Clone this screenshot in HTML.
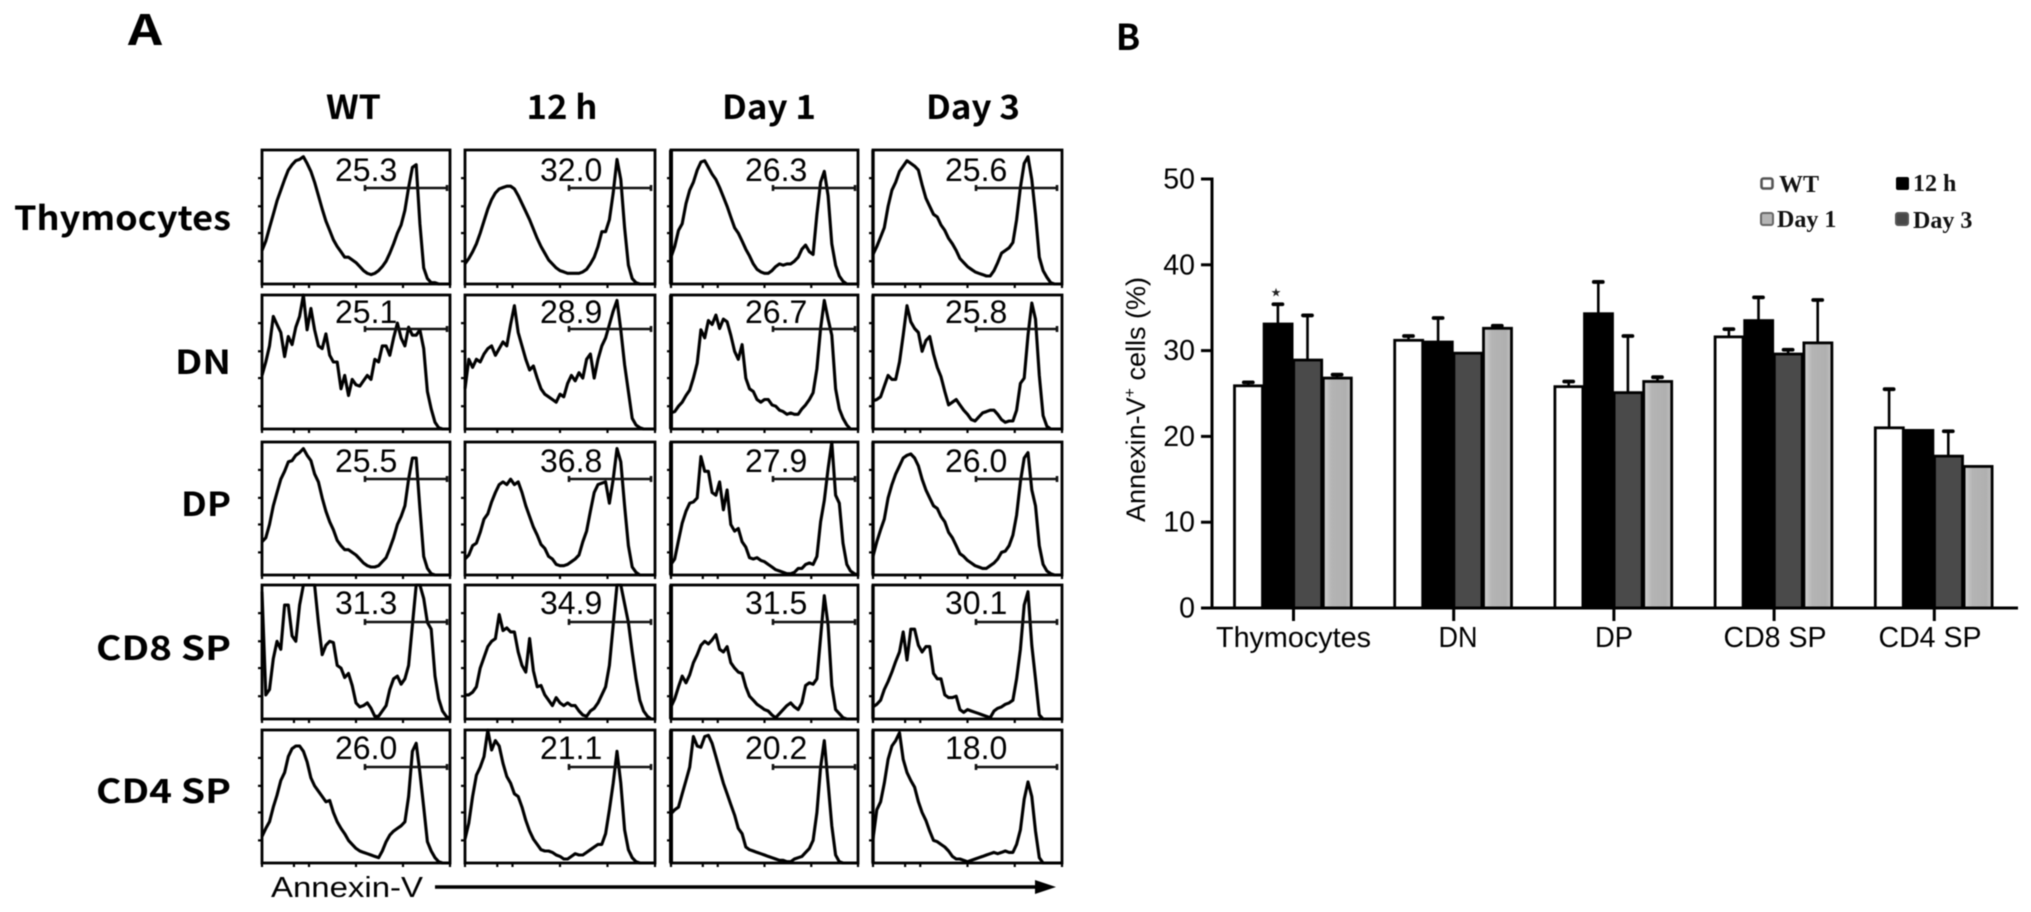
<!DOCTYPE html>
<html lang="en">
<head>
<meta charset="utf-8">
<title>Annexin-V histograms and bar chart</title>
<style>
html,body{margin:0;padding:0;background:#fff;}
svg{display:block;filter:blur(0.4px);}
.krb{font-family:"Noto Sans CJK KR","Liberation Sans",sans-serif;font-weight:700;fill:#000;}
.sans{font-family:"Liberation Sans",sans-serif;fill:#000;}
.serif{font-family:"Liberation Serif",serif;font-weight:700;fill:#111;font-size:24px;}
</style>
</head>
<body>
<svg id="figure" xmlns="http://www.w3.org/2000/svg" width="2031" height="912" viewBox="0 0 2031 912">
  <defs>
    <linearGradient id="light-fill" x1="0" y1="0" x2="1" y2="0">
      <stop offset="0" stop-color="#d4d4d4"/><stop offset="0.3" stop-color="#b4b4b4"/><stop offset="0.8" stop-color="#b0b0b0"/><stop offset="1" stop-color="#c4c4c4"/>
    </linearGradient>
  </defs>
  <rect x="0" y="0" width="2031" height="912" fill="#fff"/>
  <text class="krb" x="128" y="45" font-size="42" textLength="34" lengthAdjust="spacingAndGlyphs">A</text>
  <text class="krb" x="1128" y="50" font-size="36" text-anchor="middle">B</text>

  <g>
    <text class="krb" x="353.5" y="119" font-size="33" text-anchor="middle" textLength="55" lengthAdjust="spacingAndGlyphs">WT</text>
    <text class="krb" x="562" y="119" font-size="33" text-anchor="middle" textLength="71" lengthAdjust="spacingAndGlyphs">12 h</text>
    <text class="krb" x="769" y="119" font-size="33" text-anchor="middle" textLength="94" lengthAdjust="spacingAndGlyphs">Day 1</text>
    <text class="krb" x="973" y="119" font-size="33" text-anchor="middle" textLength="94" lengthAdjust="spacingAndGlyphs">Day 3</text>
  </g>
  <g>
    <text class="krb" x="231" y="230" font-size="33" text-anchor="end" textLength="217" lengthAdjust="spacingAndGlyphs">Thymocytes</text>
    <text class="krb" x="231" y="374" font-size="33" text-anchor="end" textLength="56" lengthAdjust="spacingAndGlyphs">DN</text>
    <text class="krb" x="231" y="516" font-size="33" text-anchor="end" textLength="50" lengthAdjust="spacingAndGlyphs">DP</text>
    <text class="krb" x="231" y="660" font-size="33" text-anchor="end" textLength="135" lengthAdjust="spacingAndGlyphs">CD8 SP</text>
    <text class="krb" x="231" y="803" font-size="33" text-anchor="end" textLength="135" lengthAdjust="spacingAndGlyphs">CD4 SP</text>
  </g>
  <g id="histograms"></g>

  <text class="sans" x="271" y="897" font-size="29" textLength="152" lengthAdjust="spacingAndGlyphs">Annexin-V</text>
  <line x1="435" y1="887" x2="1038" y2="887" stroke="#000" stroke-width="3.4"/>
  <polygon points="1035,880 1056,887 1035,894" fill="#000"/>

  <g id="barchart"></g>
  <text class="sans" transform="translate(1145,399.5) rotate(-90)" font-size="27" text-anchor="middle">Annexin-V<tspan font-size="16" dy="-10">+</tspan><tspan dy="10"> cells (%)</tspan></text>

  <g>
    <rect x="1761.5" y="178.5" width="11" height="10" rx="2" fill="#fff" stroke="#555" stroke-width="2.6"/>
    <text class="serif" x="1779" y="192">WT</text>
    <rect x="1896" y="177" width="13" height="13" rx="2" fill="#000"/>
    <text class="serif" x="1913" y="191">12 h</text>
    <rect x="1761" y="213" width="12" height="12" rx="2" fill="#b5b5b5" stroke="#666" stroke-width="2"/>
    <text class="serif" x="1777" y="227">Day 1</text>
    <rect x="1896" y="213" width="12" height="12" rx="2" fill="#484848" stroke="#555" stroke-width="2"/>
    <text class="serif" x="1913" y="228">Day 3</text>
  </g>
</svg>

<script>
// ---------- Panel A data: relative cell count (0-100) at each Annexin-V channel ----------
const channels = [0,2,4,6,8,10,12,14,16,18,20,22,24,26,28,30,32,34,36,38,40,42,44,46,48,50,52,54,56,58,60,62,64,66,68,70,72,74,76,78,80,82,84,86,88,90,92,94,96,98,100];

const wtThymocytes = [25,32,42,52,62,70,78,85,89,92,93,95,90,84,76,66,56,47,40,33,28,24,20,20,18,16,13,10,8,7,8,10,13,17,23,30,38,44,55,72,87,89,45,12,4,1,1,0,0,0,0];
const h12Thymocytes = [15,19,24,30,38,47,56,63,68,71,72,73,73,71,66,60,54,48,41,34,28,23,18,15,12,10,9,8,8,8,8,9,11,15,20,28,39,39,48,68,93,78,42,14,4,1,0,0,0,0,0];
const day1Thymocytes = [20,28,40,45,60,70,76,85,91,92,87,82,78,72,65,58,50,42,38,32,26,21,15,11,9,8,8,10,13,15,14,15,15,17,20,26,29,24,22,52,76,84,66,30,14,6,2,0,0,0,0];
const day3Thymocytes = [22,28,35,42,58,70,76,84,88,92,90,88,85,74,64,58,52,50,44,40,34,30,25,19,16,13,11,9,8,7,6,6,10,16,23,25,27,31,48,72,90,95,78,52,20,10,5,1,0,0,0];

const wtDN = [40,50,62,84,78,72,54,69,63,76,84,100,74,90,74,62,60,71,55,50,50,30,40,25,37,33,32,36,40,37,52,50,62,62,55,68,79,68,62,76,70,70,74,60,28,15,5,1,0,0,0];
const h12DN = [30,52,46,52,50,56,60,62,55,60,65,62,78,92,72,62,52,44,47,38,30,26,24,22,20,26,24,34,40,36,42,38,52,56,38,52,62,68,78,88,96,74,48,28,8,3,1,0,0,0,0];
const day1DN = [12,13,17,20,25,29,38,49,74,68,81,78,85,75,82,80,70,58,52,63,38,30,28,22,20,22,22,18,17,14,13,11,12,11,11,15,18,22,27,45,75,96,82,70,30,15,8,3,0,0,0];
const day3DN = [21,22,24,32,40,37,37,50,70,92,80,75,72,58,66,69,56,46,39,28,18,20,22,18,14,11,7,6,9,12,13,14,14,11,7,5,6,6,14,34,38,70,94,82,40,10,2,0,0,0,0];

const wtDP = [25,28,38,52,62,72,78,85,86,90,92,95,90,86,76,70,58,48,40,34,26,22,19,19,17,15,12,9,7,6,6,7,10,13,20,28,38,44,52,72,88,88,50,14,5,1,0,0,0,0,0];
const h12DP = [12,15,22,24,32,42,46,55,62,68,70,68,72,68,70,62,52,44,36,30,23,20,14,12,8,7,7,8,10,12,15,25,33,48,62,68,69,70,54,72,95,85,52,22,6,2,0,0,0,0,0];
const day1DP = [8,12,26,39,48,54,55,58,89,78,78,62,60,70,49,64,38,33,35,25,21,13,12,13,11,10,8,6,4,3,2,1,1,2,5,5,8,9,8,14,40,56,80,100,60,54,24,8,3,1,0];
const day3DP = [14,25,34,42,58,68,76,82,88,90,91,88,82,72,64,58,52,50,44,40,32,28,22,16,14,11,9,7,6,5,5,7,9,12,17,18,22,30,45,70,88,92,64,52,22,8,3,1,0,0,0];

const wtCD8 = [95,18,22,45,58,52,85,85,62,58,85,100,100,100,100,72,48,55,58,57,40,38,31,34,25,12,9,10,12,8,2,2,6,10,22,30,32,26,30,40,70,100,100,90,72,67,32,15,6,2,0];
const h12CD8 = [18,18,20,24,38,46,54,58,60,78,66,68,65,65,50,40,35,60,36,24,25,18,14,10,16,12,10,12,10,10,6,3,2,6,8,12,18,24,40,70,100,100,86,72,50,30,14,6,2,0,0];
const day1CD8 = [9,15,24,32,27,33,42,48,55,58,56,59,63,52,50,54,42,38,35,34,24,17,14,11,9,7,6,3,1,4,7,10,12,9,7,12,25,27,26,30,61,92,70,25,7,4,1,0,0,0,0];
const day3CD8 = [9,11,14,22,28,35,43,50,65,44,67,67,55,50,54,54,34,30,30,18,16,16,17,7,5,7,6,5,4,3,2,1,6,8,9,11,12,14,30,52,85,95,55,30,3,0,0,0,0,0,0];

const wtCD4 = [20,26,31,42,51,62,68,80,86,88,88,84,76,64,58,54,50,46,47,38,31,26,22,17,14,11,9,8,7,6,5,4,9,16,21,24,26,28,31,50,84,90,68,42,16,9,4,1,0,0,0];
const h12CD4 = [18,30,50,66,72,80,100,85,92,88,75,65,60,52,50,42,32,24,18,14,10,9,9,8,6,5,3,3,5,7,6,6,8,10,12,14,14,22,40,60,84,60,25,10,4,1,0,0,0,0,0];
const day1CD4 = [37,40,42,52,62,72,95,88,87,95,96,90,80,70,60,52,44,36,26,22,12,10,9,8,7,6,5,4,3,2,2,1,1,3,4,5,8,11,17,38,72,92,60,28,6,1,0,0,0,0,0];
const day3CD4 = [18,40,46,60,78,88,92,98,78,68,62,57,46,38,32,24,17,16,14,12,9,5,3,3,2,1,2,3,4,5,6,7,8,7,8,9,8,8,14,25,48,61,50,24,4,0,0,0,0,0,0];

const populations = ['thymocytes','dn','dp','cd8-sp','cd4-sp'];
const timepoints = ['wt','12h','day1','day3'];
const histogramCounts = [
  [wtThymocytes,h12Thymocytes,day1Thymocytes,day3Thymocytes],
  [wtDN,h12DN,day1DN,day3DN],
  [wtDP,h12DP,day1DP,day3DP],
  [wtCD8,h12CD8,day1CD8,day3CD8],
  [wtCD4,h12CD4,day1CD4,day3CD4]
];
const gatePercents = [
  ['25.3','32.0','26.3','25.6'],
  ['25.1','28.9','26.7','25.8'],
  ['25.5','36.8','27.9','26.0'],
  ['31.3','34.9','31.5','30.1'],
  ['26.0','21.1','20.2','18.0']
];

// ---------- Panel B data ----------
const barCategories = ['Thymocytes','DN','DP','CD8 SP','CD4 SP'];
const yTickLabels = ['0','10','20','30','40','50'];
const yTickValues = [0,10,20,30,40,50];
const wtMeans  = [25.9,31.2,25.8,31.6,21.0];
const h12Means = [33.1,31.0,34.3,33.5,20.7];
const day3Means = [28.9,29.7,25.1,29.6,17.7];
const day1Means = [26.8,32.6,26.4,30.9,16.5];
const wtErrors  = [0.4,0.5,0.6,0.9,4.5];
const h12Errors = [2.3,2.8,3.7,2.7,0];
const day3Errors = [5.2,0,6.6,0.5,2.9];
const day1Errors = [0.4,0.3,0.5,5.0,0];
const seriesNames = ['wt','12h','day3','day1'];
const seriesMeans = [wtMeans,h12Means,day3Means,day1Means];
const seriesErrors = [wtErrors,h12Errors,day3Errors,day1Errors];
const seriesFills = ['#ffffff','#000000','#4a4a4a','url(#light-fill)'];

const NS = 'http://www.w3.org/2000/svg';
function mk(tag, attrs, parent){
  const el = document.createElementNS(NS, tag);
  for (const k in attrs) el.setAttribute(k, attrs[k]);
  parent.appendChild(el);
  return el;
}

// ---------- Panel A layout ----------
const colX = [[262,450],[465,655],[671,858],[873,1062]];
const rowY = [[150,284],[295,429],[442,575],[585,719],[730,863]];
const percentBaseline = [181,323,472,614,759];
const gateY = [188,329,479,622,767];
const gateOffsets = [[103,185],[104,186],[102,184],[103,184]];
const percentOffset = [73,75,74,72];
const bottomTickFractions = [0,0.17,0.25,0.5,0.75,1];
const leftTickFractions = [0.17,0.38,0.58,0.79];

const hist = document.getElementById('histograms');
histogramCounts.forEach(function(rowCurves, r){
  rowCurves.forEach(function(counts, c){
    const x0 = colX[c][0], x1 = colX[c][1], y0 = rowY[r][0], y1 = rowY[r][1];
    const xScale = function(ch){ return x0 + ch / 100 * (x1 - x0); };
    const yScale = function(ct){ return y1 - ct / 100 * (y1 - y0); };
    const name = populations[r] + '-' + timepoints[c];

    const g = mk('g', {}, hist);
    
    

    const frame = mk('rect', {x:x0, y:y0, width:x1-x0, height:y1-y0, fill:'#fff', stroke:'#000', 'stroke-width':2.8}, g);
    
    

    if (c >= 2) {
      const thick = mk('line', {x1:x0, y1:y0, x2:x0, y2:y1, stroke:'#000', 'stroke-width':c === 2 ? 4 : 3.4}, g);
      
      
    }

    bottomTickFractions.forEach(function(f){
      const t = mk('line', {x1:x0+f*(x1-x0), y1:y1, x2:x0+f*(x1-x0), y2:y1+4, stroke:'#000', 'stroke-width':2.2}, g);
      
      
    });
    leftTickFractions.forEach(function(f){
      const t = mk('line', {x1:x0-4, y1:y1-f*(y1-y0), x2:x0, y2:y1-f*(y1-y0), stroke:'#000', 'stroke-width':2.2}, g);
      
      
    });

    const pts = channels.map(function(ch, i){ return xScale(ch).toFixed(1) + ',' + yScale(counts[i]).toFixed(1); }).join(' ');
    const curve = mk('polyline', {points:pts, fill:'none', stroke:'#000', 'stroke-width':3.1, 'stroke-linejoin':'round'}, g);
    
    

    const gx0 = x0 + gateOffsets[c][0], gx1 = x0 + gateOffsets[c][1], gy = gateY[r];
    const gate = mk('path', {d:'M'+gx0+' '+gy+'H'+gx1+'M'+gx0+' '+(gy-3)+'V'+(gy+3)+'M'+gx1+' '+(gy-3)+'V'+(gy+3), fill:'none', stroke:'#111', 'stroke-width':2.6}, g);
    
    

    const label = mk('text', {x:x0+percentOffset[c], y:percentBaseline[r], 'font-size':32, 'class':'sans'}, g);
    label.textContent = gatePercents[r][c];
    
    
  });
});

// ---------- Panel B layout ----------
const chart = document.getElementById('barchart');
const axisLeft = 1212, axisRight = 2018, yZero = 608, yTop = 179;
const yAxisScale = function(v){ return yZero - v / 50 * (yZero - yTop); };
const groupCenter = function(i){ return 1293.5 + i * 160.2; };
const barWidth = 29.6;

seriesMeans.forEach(function(means, s){
  means.forEach(function(v, i){
    const left = groupCenter(i) - 60 + s * barWidth;
    const err = seriesErrors[s][i];
    const cx = left + barWidth / 2;
    if (err > 0) {
      const stem = mk('line', {x1:cx, y1:yAxisScale(v), x2:cx, y2:yAxisScale(v+err), stroke:'#000', 'stroke-width':2.6}, chart);
      
      
      const cap = mk('line', {x1:cx-4.5, y1:yAxisScale(v+err), x2:cx+4.5, y2:yAxisScale(v+err), stroke:'#000', 'stroke-width':3.8, 'stroke-linecap':'round'}, chart);
      
      
    }
    const bar = mk('rect', {x:left+1, y:yAxisScale(v), width:barWidth-1.6, height:yZero-yAxisScale(v), fill:seriesFills[s], stroke:'#000', 'stroke-width':2.8}, chart);
    
    
  });
});

const significance = mk('text', {x:groupCenter(0)-17.5, y:yAxisScale(h12Means[0]+h12Errors[0])-8, 'font-size':12, 'text-anchor':'middle', 'font-family':'"DejaVu Sans",sans-serif', fill:'#222'}, chart);
significance.textContent = '★';



const yAxis = mk('line', {x1:axisLeft, y1:yTop-1.5, x2:axisLeft, y2:yZero+1.5, stroke:'#000', 'stroke-width':3}, chart);


const xAxis = mk('line', {x1:axisLeft, y1:yZero, x2:axisRight, y2:yZero, stroke:'#000', 'stroke-width':3}, chart);



yTickValues.forEach(function(v, i){
  const t = mk('line', {x1:1201, y1:yAxisScale(v), x2:axisLeft, y2:yAxisScale(v), stroke:'#000', 'stroke-width':3}, chart);
  
  
  const l = mk('text', {x:1195, y:yAxisScale(v)+9.5, 'font-size':28.5, 'text-anchor':'end', 'class':'sans'}, chart);
  l.textContent = yTickLabels[i];
  
  
});

const xLabelCenters = [1293.5,1458,1614,1775,1930];
const xLabelWidths = [155,39,38,103,103];
barCategories.forEach(function(cat, i){
  const t = mk('line', {x1:groupCenter(i), y1:yZero, x2:groupCenter(i), y2:yZero+13, stroke:'#000', 'stroke-width':3}, chart);
  
  
  const l = mk('text', {x:xLabelCenters[i], y:647, 'font-size':28.5, 'text-anchor':'middle', 'class':'sans', textLength:xLabelWidths[i], lengthAdjust:'spacingAndGlyphs'}, chart);
  l.textContent = cat;
  
  
});
</script>
</body>
</html>
